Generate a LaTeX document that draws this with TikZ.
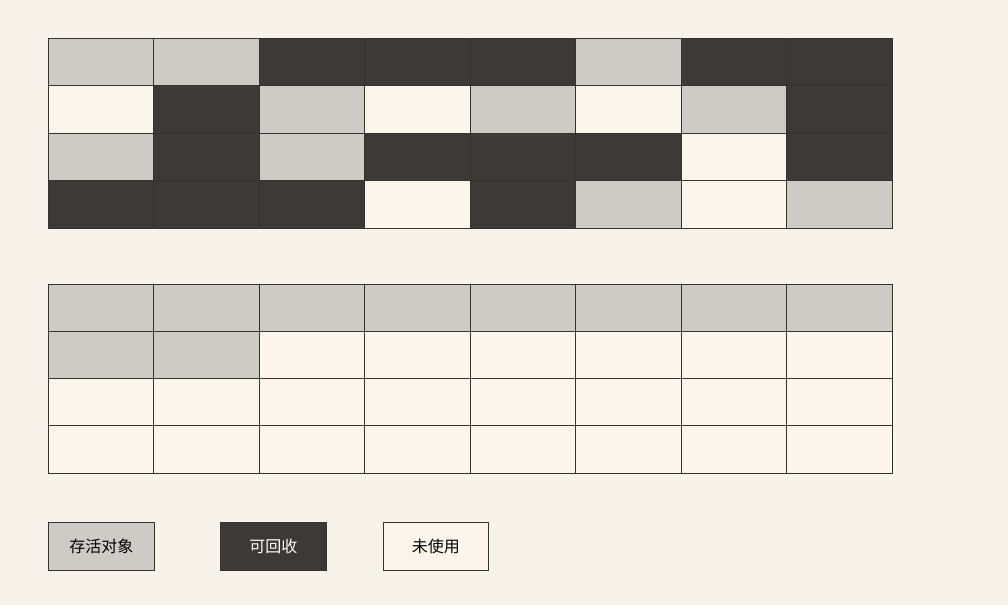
\documentclass[tikz,border=0pt]{standalone}
\usepackage{fontspec}
\newfontfamily\cjk{Noto Sans CJK SC}
\definecolor{paper}{HTML}{F8F3EA}
\definecolor{livecol}{HTML}{CECAC5}
\definecolor{deadcol}{HTML}{3D3936}
\definecolor{freecol}{HTML}{FBF5EC}
\definecolor{edgecol}{HTML}{353230}
\begin{document}
\begin{tikzpicture}[x=1pt,y=-1pt,line width=1pt,
    live/.style={fill=livecol,draw=edgecol},
    dead/.style={fill=deadcol,draw=edgecol},
    free/.style={fill=freecol,draw=edgecol},
    legend/.style={minimum width=105.5pt,minimum height=48.5pt,inner sep=0pt,
                   anchor=north west,font=\cjk\fontsize{16}{18}\selectfont}]
    % Background
    \fill[paper] (0,0) rectangle (1008,605);
    \useasboundingbox (0,0) rectangle (1008,605);
    % Heap before collection: row 1
    \draw[live] (48,38)    rectangle ++(105.5,47.5);
    \draw[live] (153.5,38) rectangle ++(105.5,47.5);
    \draw[dead] (259,38)   rectangle ++(105.5,47.5);
    \draw[dead] (364.5,38) rectangle ++(105.5,47.5);
    \draw[dead] (470,38)   rectangle ++(105.5,47.5);
    \draw[live] (575.5,38) rectangle ++(105.5,47.5);
    \draw[dead] (681,38)   rectangle ++(105.5,47.5);
    \draw[dead] (786.5,38) rectangle ++(105.5,47.5);
    % row 2
    \draw[free] (48,85.5)    rectangle ++(105.5,47.5);
    \draw[dead] (153.5,85.5) rectangle ++(105.5,47.5);
    \draw[live] (259,85.5)   rectangle ++(105.5,47.5);
    \draw[free] (364.5,85.5) rectangle ++(105.5,47.5);
    \draw[live] (470,85.5)   rectangle ++(105.5,47.5);
    \draw[free] (575.5,85.5) rectangle ++(105.5,47.5);
    \draw[live] (681,85.5)   rectangle ++(105.5,47.5);
    \draw[dead] (786.5,85.5) rectangle ++(105.5,47.5);
    % row 3
    \draw[live] (48,133)    rectangle ++(105.5,47.5);
    \draw[dead] (153.5,133) rectangle ++(105.5,47.5);
    \draw[live] (259,133)   rectangle ++(105.5,47.5);
    \draw[dead] (364.5,133) rectangle ++(105.5,47.5);
    \draw[dead] (470,133)   rectangle ++(105.5,47.5);
    \draw[dead] (575.5,133) rectangle ++(105.5,47.5);
    \draw[free] (681,133)   rectangle ++(105.5,47.5);
    \draw[dead] (786.5,133) rectangle ++(105.5,47.5);
    % row 4
    \draw[dead] (48,180.5)    rectangle ++(105.5,47.5);
    \draw[dead] (153.5,180.5) rectangle ++(105.5,47.5);
    \draw[dead] (259,180.5)   rectangle ++(105.5,47.5);
    \draw[free] (364.5,180.5) rectangle ++(105.5,47.5);
    \draw[dead] (470,180.5)   rectangle ++(105.5,47.5);
    \draw[live] (575.5,180.5) rectangle ++(105.5,47.5);
    \draw[free] (681,180.5)   rectangle ++(105.5,47.5);
    \draw[live] (786.5,180.5) rectangle ++(105.5,47.5);
    % Heap after compaction: row 1
    \draw[live] (48,284)    rectangle ++(105.5,47.25);
    \draw[live] (153.5,284) rectangle ++(105.5,47.25);
    \draw[live] (259,284)   rectangle ++(105.5,47.25);
    \draw[live] (364.5,284) rectangle ++(105.5,47.25);
    \draw[live] (470,284)   rectangle ++(105.5,47.25);
    \draw[live] (575.5,284) rectangle ++(105.5,47.25);
    \draw[live] (681,284)   rectangle ++(105.5,47.25);
    \draw[live] (786.5,284) rectangle ++(105.5,47.25);
    % row 2
    \draw[live] (48,331.25)    rectangle ++(105.5,47.25);
    \draw[live] (153.5,331.25) rectangle ++(105.5,47.25);
    \draw[free] (259,331.25)   rectangle ++(105.5,47.25);
    \draw[free] (364.5,331.25) rectangle ++(105.5,47.25);
    \draw[free] (470,331.25)   rectangle ++(105.5,47.25);
    \draw[free] (575.5,331.25) rectangle ++(105.5,47.25);
    \draw[free] (681,331.25)   rectangle ++(105.5,47.25);
    \draw[free] (786.5,331.25) rectangle ++(105.5,47.25);
    % rows 3 and 4
    \draw[free] (48,378.5)    rectangle ++(105.5,47.25);
    \draw[free] (153.5,378.5) rectangle ++(105.5,47.25);
    \draw[free] (259,378.5)   rectangle ++(105.5,47.25);
    \draw[free] (364.5,378.5) rectangle ++(105.5,47.25);
    \draw[free] (470,378.5)   rectangle ++(105.5,47.25);
    \draw[free] (575.5,378.5) rectangle ++(105.5,47.25);
    \draw[free] (681,378.5)   rectangle ++(105.5,47.25);
    \draw[free] (786.5,378.5) rectangle ++(105.5,47.25);
    \draw[free] (48,425.75)    rectangle ++(105.5,47.25);
    \draw[free] (153.5,425.75) rectangle ++(105.5,47.25);
    \draw[free] (259,425.75)   rectangle ++(105.5,47.25);
    \draw[free] (364.5,425.75) rectangle ++(105.5,47.25);
    \draw[free] (470,425.75)   rectangle ++(105.5,47.25);
    \draw[free] (575.5,425.75) rectangle ++(105.5,47.25);
    \draw[free] (681,425.75)   rectangle ++(105.5,47.25);
    \draw[free] (786.5,425.75) rectangle ++(105.5,47.25);
    % Legend
    \node (livekey) [legend,live] at (48,521.5)  {存活对象};
    \node (deadkey) [legend,dead,text=white] at (220,521.5) {可回收};
    \node (freekey) [legend,free] at (382.5,521.5) {未使用};
\end{tikzpicture}
\end{document}
